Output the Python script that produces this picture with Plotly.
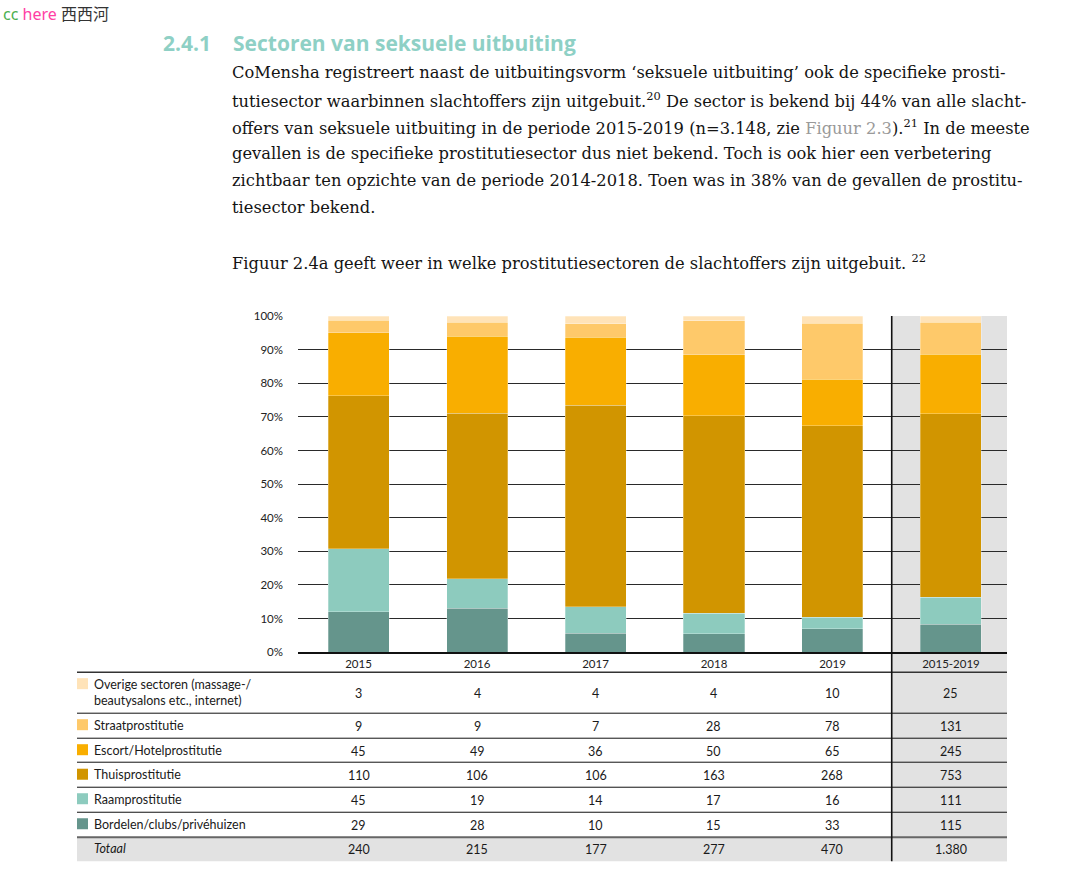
import plotly.graph_objects as go

W, H = 1077, 881

# ---------------- data ----------------
years = ['2015', '2016', '2017', '2018', '2019', '2015-2019']
bordelen = [29, 28, 10, 15, 33, 115]
raam = [45, 19, 14, 17, 16, 111]
thuis = [110, 106, 106, 163, 268, 753]
escort = [45, 49, 36, 50, 65, 245]
straat = [9, 9, 7, 28, 78, 131]
overige = [3, 4, 4, 4, 10, 25]
totaal = ['240', '215', '177', '277', '470', '1.380']
sector_names = ['Bordelen/clubs/privéhuizen', 'Raamprostitutie', 'Thuisprostitutie',
                'Escort/Hotelprostitutie', 'Straatprostitutie',
                'Overige sectoren (massage-/<br>beautysalons etc., internet)']
y_ticks = [0, 10, 20, 30, 40, 50, 60, 70, 80, 90, 100]
colors = ['#65958C', '#8DCBBE', '#D19500', '#F9AE00', '#FEC96A', '#FFE3B8']

series = [bordelen, raam, thuis, escort, straat, overige]
col_sums = [sum(s[i] for s in series) for i in range(len(years))]

# ---------------- layout helpers ----------------
# screen-to-figure calibration measured from earlier renders
Y_OFF, Y_SCALE = 7.2, 0.9847

def fx(p):
    return p / W

def fy(p):
    return 1 - ((p - Y_OFF) / Y_SCALE) / H

PL, PR, PT, PB = 298, 1007, 316, 652
XMIN, XMAX = -0.511, 5.473
TL, TR = 77, 1007          # table left / right
TBOT = 861                 # table bottom
GRAY = '#E2E2E2'
SANS = 'Lato'
SERIF = 'DejaVu Serif'
TXT = '#1a1a1a'

fig = go.Figure()
for name, vals, col in zip(sector_names, series, colors):
    pct = [v / t * 100 for v, t in zip(vals, col_sums)]
    fig.add_trace(go.Bar(
        x=list(range(len(years))), y=pct, name=name, width=0.515,
        marker=dict(color=col, line=dict(color='rgba(255,255,255,0.35)', width=0.8)),
        hoverinfo='skip'))

shapes = []
annotations = []

# gray background for the total column (chart + table) and total row
shapes.append(dict(type='rect', xref='x', yref='paper', x0=4.5, x1=XMAX,
                   y0=fy(TBOT), y1=fy(PT), fillcolor=GRAY, line=dict(width=0), layer='below'))
shapes.append(dict(type='rect', xref='paper', yref='paper', x0=fx(TL), x1=fx(TR),
                   y0=fy(TBOT), y1=fy(837), fillcolor=GRAY, line=dict(width=0), layer='below'))

# table lines
shapes.append(dict(type='line', xref='paper', yref='paper', x0=fx(TL), x1=fx(TR),
                   y0=fy(672), y1=fy(672), line=dict(color='#333', width=1.5)))
for yy in [713, 738, 762, 787, 812]:
    shapes.append(dict(type='line', xref='paper', yref='paper', x0=fx(TL), x1=fx(TR),
                       y0=fy(yy), y1=fy(yy), line=dict(color='#111', width=1)))
shapes.append(dict(type='line', xref='paper', yref='paper', x0=fx(TL), x1=fx(TR),
                   y0=fy(837), y1=fy(837), line=dict(color='#666', width=2)))
# vertical divider
shapes.append(dict(type='line', xref='x', yref='paper', x0=4.5, x1=4.5,
                   y0=fy(TBOT), y1=fy(PT), line=dict(color='#111', width=1.6), layer='above'))

# table rows (top to bottom)
rows = [(5, 692, 678), (4, 725, 719), (3, 750, 744), (2, 774.5, 768.5), (1, 799, 793), (0, 824, 818)]
for idx, yc, sq_top in rows:
    shapes.append(dict(type='rect', xref='paper', yref='paper', x0=fx(TL), x1=fx(TL + 11),
                       y0=fy(sq_top + 11), y1=fy(sq_top), fillcolor=colors[idx],
                       line=dict(width=0)))
    annotations.append(dict(xref='paper', yref='paper', x=fx(92), y=fy(yc), xanchor='left',
                            yanchor='middle', text=sector_names[idx], showarrow=False,
                            align='left', font=dict(family=SANS, size=12.5, color=TXT)))
    for i in range(len(years)):
        annotations.append(dict(xref='x', yref='paper', x=i, y=fy(yc + 1), xanchor='center',
                                yanchor='middle', text=str(series[idx][i]), showarrow=False,
                                font=dict(family=SANS, size=12.5, color=TXT)))
annotations.append(dict(xref='paper', yref='paper', x=fx(92), y=fy(848), xanchor='left',
                        yanchor='middle', text='<i>Totaal</i>', showarrow=False,
                        font=dict(family=SANS, size=12.5, color=TXT)))
for i in range(len(years)):
    annotations.append(dict(xref='x', yref='paper', x=i, y=fy(849), xanchor='center',
                            yanchor='middle', text=totaal[i], showarrow=False,
                            font=dict(family=SANS, size=12.5, color=TXT)))

# watermark
annotations.append(dict(xref='paper', yref='paper', x=fx(1), y=fy(13), xanchor='left',
                        yanchor='middle', showarrow=False,
                        text="<span style='color:#4CAF50'>cc</span> <span style='color:#FF3FA4'>here</span> "
                             "<span style='font-family:Noto Sans CJK SC'>西西河</span>",
                        font=dict(family='Noto Sans', size=16, color='#333')))

# section title
TEAL = '#8ED0C5'
annotations.append(dict(xref='paper', yref='paper', x=fx(161), y=fy(43), xanchor='left',
                        yanchor='middle', showarrow=False, text='<b>2.4.1</b>',
                        font=dict(family='Open Sans', size=21, color=TEAL)))
annotations.append(dict(xref='paper', yref='paper', x=fx(231), y=fy(43), xanchor='left',
                        yanchor='middle', showarrow=False, text='<b>Sectoren van seksuele uitbuiting</b>',
                        font=dict(family='Open Sans', size=21, color=TEAL)))

body = [
    "CoMensha registreert naast de uitbuitingsvorm ‘seksuele uitbuiting’ ook de specifieke prosti-",
    "tutiesector waarbinnen slachtoffers zijn uitgebuit.<sup>20</sup> De sector is bekend bij 44% van alle slacht-",
    "offers van seksuele uitbuiting in de periode 2015-2019 (n=3.148, zie "
    "<span style='color:#9a9a9a'>Figuur 2.3</span>).<sup>21</sup> In de meeste",
    "gevallen is de specifieke prostitutiesector dus niet bekend. Toch is ook hier een verbetering",
    "zichtbaar ten opzichte van de periode 2014-2018. Toen was in 38% van de gevallen de prostitu-",
    "tiesector bekend.",
]
for k, line in enumerate(body):
    annotations.append(dict(xref='paper', yref='paper', x=fx(230), y=fy(73 + 27 * k), xanchor='left',
                            yanchor='middle', showarrow=False, text=line,
                            font=dict(family=SERIF, size=16.3, color='#141414')))
annotations.append(dict(xref='paper', yref='paper', x=fx(230), y=fy(262), xanchor='left',
                        yanchor='middle', showarrow=False,
                        text="Figuur 2.4a geeft weer in welke prostitutiesectoren de slachtoffers zijn uitgebuit. <sup>22</sup>",
                        font=dict(family=SERIF, size=16.3, color='#141414')))

fig.update_layout(
    width=W, height=H, margin=dict(l=0, r=0, t=0, b=0),
    paper_bgcolor='white', plot_bgcolor='rgba(0,0,0,0)',
    barmode='stack', showlegend=False,
    shapes=shapes, annotations=annotations,
    xaxis=dict(range=[XMIN, XMAX], domain=[fx(PL), fx(PR)],
               tickvals=list(range(len(years))), ticktext=years,
               showgrid=False, showline=True, linecolor='#111', linewidth=2,
               ticks='', tickfont=dict(family=SANS, size=11.5, color='#222'),
               zeroline=False, fixedrange=True),
    yaxis=dict(range=[0, 100.05], domain=[fy(PB), fy(PT)],
               tickvals=y_ticks, ticktext=[f'{v}%' for v in y_ticks],
               showgrid=True, gridcolor='#2a2a2a', gridwidth=1, zeroline=False,
               ticks='', ticklabelstandoff=14,
               tickfont=dict(family=SANS, size=11.5, color='#222'), fixedrange=True),
)

fig.write_html(
    'out.html',
    config={'displayModeBar': False},
    post_script=("var gd=document.getElementById('{plot_id}');"
                 "document.documentElement.style.overflow='hidden';"
                 "document.body.style.margin='0';"
                 "gd.style.position='fixed';gd.style.top='0px';gd.style.left='0px';"),
)
